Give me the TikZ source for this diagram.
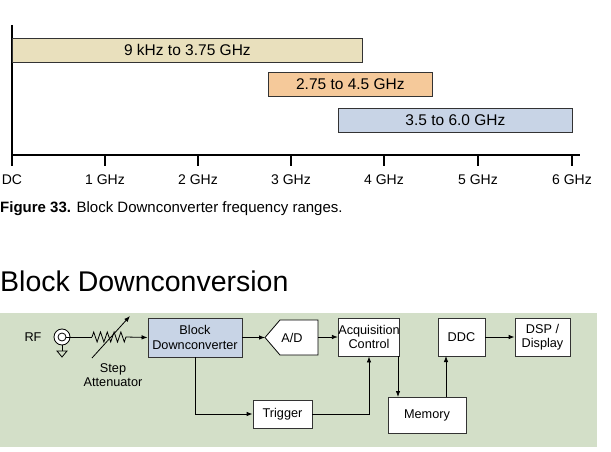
\documentclass[tikz,border=0pt]{standalone}
\usepackage{fontspec}
\setmainfont{Liberation Sans}
\usetikzlibrary{arrows.meta,decorations.pathmorphing}
\definecolor{panel}{HTML}{D3DFC8}
\definecolor{tanb}{HTML}{E9E0BD}
\definecolor{orb}{HTML}{F5C99A}
\definecolor{blb}{HTML}{C8D4E6}
\begin{document}
\begin{tikzpicture}[x=1pt,y=-1pt,font=\fontsize{12.7}{14.5}\selectfont,
 bar/.style={draw=black!80,line width=0.8pt,anchor=north west,inner sep=0},
 bt/.style={font=\fontsize{15.5}{17}\selectfont},
 blk/.style={draw=black!80,fill=white,line width=0.8pt,align=center,inner sep=0,font=\fontsize{12.7}{14.5}\selectfont},
 ar/.style={-{Latex[length=6pt,width=4.5pt]},line width=0.8pt},
 ln/.style={line width=0.8pt}]
\useasboundingbox (0,0) rectangle (611,452);
% chart
\draw[line width=2.2pt] (12,25) -- (12,155) -- (580,155);
\foreach \x/\l in {12/DC,105/1 GHz,198/2 GHz,291/3 GHz,384/4 GHz,478/5 GHz,572/6 GHz}{
  \draw[line width=1.2pt] (\x,155) -- (\x,166);
  \node[font=\fontsize{14}{16}\selectfont] (t\x) at (\x,180) {\l};}
\node[bar,fill=tanb,minimum width=350,minimum height=24] (b1) at (12,38) {};
\node[bt] at (b1.center) {9 kHz to 3.75 GHz};
\node[bar,fill=orb,minimum width=164,minimum height=24] (b2) at (268,72) {};
\node[bt] at (b2.center) {2.75 to 4.5 GHz};
\node[bar,fill=blb,minimum width=234,minimum height=24] (b3) at (338,108) {};
\node[bt] at (b3.center) {3.5 to 6.0 GHz};
\node[anchor=west,inner sep=0,font=\fontsize{15}{17}\selectfont] (cap) at (0,209) {\textbf{Figure 33.} Block Downconverter frequency ranges.};
\node[anchor=west,inner sep=0,font=\fontsize{28.5}{32}\selectfont] (title) at (0,281) {Block Downconversion};
% panel
\fill[panel] (0,313) rectangle (597,447);
\node (rf) at (33,337) {RF};
\draw[ln,fill=white] (62,337) circle (8);
\draw[ln] (62,337) circle (4);
\coordinate (c) at (66,337);
\draw[ln] (62,345) -- (62,351);
\draw[ln] (57,351) -- (67,351) -- (62,357) -- cycle;
\coordinate (r1) at (92,337); \coordinate (r2) at (126,337);
\draw[ln] (c) -- (r1);
\draw[ln,decorate,decoration={zigzag,segment length=6.8pt,amplitude=5pt}] (r1) -- (r2);
\draw[ln,-{Latex[length=6pt,width=4.5pt]}] (92,358) -- (130,316);
\node[blk,fill=blb,minimum width=94,minimum height=39] (bd) at (195,337.5) {Block\\Downconverter};
\draw[ar] (r2) -- (bd.west);
\node[align=center] (sa) at (113,375) {Step\\Attenuator};
\draw[ln,fill=white] (265,337.5) -- (280,320) -- (318,320) -- (318,355) -- (280,355) -- cycle;
\node (ad) at (292,338) {A/D};
\coordinate (adw) at (265,337.5);
\draw[ar] (bd.east) -- (adw);
\node[blk,minimum width=58,minimum height=38] (acq) at (369,337) {Acquisition\\Control};
\draw[ar] (318,337) -- (acq.west);
\node[blk,minimum width=47,minimum height=38] (ddc) at (461.5,337) {DDC};
\node[blk,minimum width=55,minimum height=38] (dsp) at (542.5,337) {DSP /\\Display};
\draw[ar] (ddc) -- (dsp);
\node[blk,minimum width=78,minimum height=36] (mem) at (427,415) {Memory};
\node[blk,minimum width=59,minimum height=28] (trg) at (282.5,414) {Trigger};
\draw[ar] (bd.south) |- (trg.west);
\draw[ar] (trg.east) -| (acq.south);
\draw[ar] (398,356) -- (398,397);
\draw[ar] (446,397) -- (446,356);
\end{tikzpicture}
\end{document}
